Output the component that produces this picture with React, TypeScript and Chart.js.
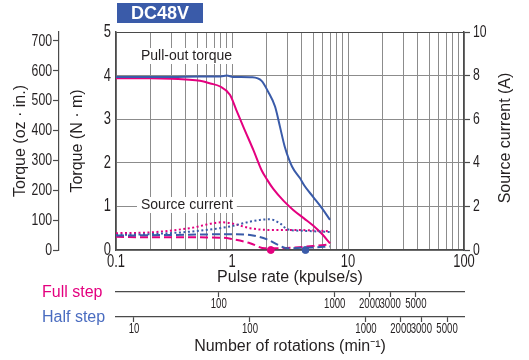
import React, { useEffect, useRef } from "react";
import { Chart, registerables } from "chart.js";

Chart.register(...registerables);

// ---- colours / fonts ----
const PINK = "#e4007f";
const BLUE = "#3a5ba9";
const HALF_LABEL = "#4a6cc0";
const GRID = "#8c8c8c";
const AXIS = "#4a4a4a";
const TEXT = "#231f20";
const TICK_FAMILY = "'Liberation Sans', Arial, sans-serif";
const TEXT_FAMILY = "Arial, 'Liberation Sans', sans-serif";
const TICK_SQUEEZE = 0.72;
const SMALL_TICK_SQUEEZE = 0.64;

// ---- axes ----
const pulseGrid = [0.1, 0.2, 0.3, 0.4, 0.5, 0.6, 0.7, 0.8, 0.9, 1, 2, 3, 4, 5, 6, 7, 8, 9, 10, 20, 30, 40, 50, 60, 70, 80, 90, 100];
const pulseLabels = [0.1, 1, 10, 100];
const torqueTicks = [0, 1, 2, 3, 4, 5];
const ozTicks = [0, 100, 200, 300, 400, 500, 600, 700];
const ozMax = 730;
const currentTicks = [0, 1, 2, 3, 4, 5, 6, 7, 8, 9, 10];
const fullRpmTicks = [100, 1000, 2000, 3000, 5000];
const halfRpmTicks = [10, 100, 1000, 2000, 3000, 5000];
const fullRpmPerKpps = 130;
const halfRpmPerKpps = 70;

// ---- pull-out torque (N·m) ----
const fullTorquePulse = [0.1, 0.2, 0.3, 0.4, 0.53, 0.65, 0.79, 0.96, 1.09, 1.25, 1.53, 1.8, 2.0, 2.27, 2.8, 3.37, 4.2, 5.0, 6.0, 7.0];
const fullTorque = [3.94, 3.94, 3.93, 3.91, 3.88, 3.82, 3.75, 3.56, 3.21, 2.83, 2.29, 1.83, 1.62, 1.4, 1.12, 0.92, 0.72, 0.56, 0.36, 0.15];
const halfTorquePulse = [0.1, 0.3, 0.53, 0.8, 0.9, 1.02, 1.5, 1.8, 2.05, 2.35, 2.59, 2.85, 3.3, 3.85, 4.2, 5.0, 6.0, 7.0];
const halfTorque = [3.97, 3.97, 3.98, 3.98, 4.0, 3.97, 3.96, 3.88, 3.63, 3.29, 2.83, 2.37, 1.91, 1.65, 1.48, 1.22, 0.95, 0.69];

// ---- source current (A) ----
const fullDotPulse = [0.1, 0.2, 0.43, 0.83, 1.0, 1.43, 2.1, 3.4, 5.0, 7.0];
const fullDotCurrent = [0.77, 0.81, 1.0, 1.27, 1.22, 1.0, 0.92, 0.92, 0.9, 0.86];
const halfDotPulse = [0.1, 0.2, 0.43, 0.83, 1.02, 1.43, 2.1, 2.6, 3.0, 4.0, 5.0, 7.0];
const halfDotCurrent = [0.69, 0.73, 0.84, 1.02, 1.11, 1.3, 1.41, 1.22, 0.95, 0.88, 0.86, 0.82];
const fullDashPulse = [0.1, 0.2, 0.5, 0.85, 1.0, 1.43, 1.92, 2.5, 3.5, 5.0, 7.0];
const fullDashCurrent = [0.61, 0.58, 0.58, 0.56, 0.5, 0.31, 0.08, 0.08, 0.12, 0.18, 0.26];
const halfDashPulse = [0.1, 0.3, 0.83, 1.1, 1.43, 2.0, 2.5, 2.96, 4.0, 5.0, 7.0];
const halfDashCurrent = [0.66, 0.69, 0.72, 0.72, 0.69, 0.49, 0.23, 0.08, 0.1, 0.12, 0.16];

// ---- starting-frequency markers ----
const markerPulse = [2.16, 4.3];
const markerTorque = [0, 0];
const markerColors = [PINK, BLUE];

const pts = (xs: number[], ys: number[]) => xs.map((x, i) => ({ x, y: ys[i] }));

const fmt = (v: number) => String(v);

const tickFont = (size: number, lineHeight?: number) => {
  const f: any = { family: TICK_FAMILY, size };
  if (lineHeight) f.lineHeight = lineHeight;
  return f;
};

// Narrows tick-label text (condensed look) using fillText's maxWidth.
const condensePlugin = {
  id: "condense",
  beforeDraw(chart: any) {
    const ctx = chart.ctx;
    if (ctx.__condensed) return;
    const orig = ctx.fillText.bind(ctx);
    ctx.fillText = (text: string, x: number, y: number, maxWidth?: number) => {
      const font = ctx.font as string;
      if (/px\s+"?Liberation Sans/.test(font)) {
        const m = font.match(/([\d.]+)px/);
        const size = m ? parseFloat(m[1]) : 16;
        const k = size <= 15 ? SMALL_TICK_SQUEEZE : TICK_SQUEEZE;
        const w = ctx.measureText(text).width * k;
        return orig(text, x, y, maxWidth !== undefined ? Math.min(maxWidth, w) : w);
      }
      return maxWidth === undefined ? orig(text, x, y) : orig(text, x, y, maxWidth);
    };
    ctx.__condensed = true;
  },
};

const overlayPlugin = {
  id: "overlay",
  beforeDatasetsDraw(chart: any) {
    const { ctx } = chart;
    const boxLabel = (text: string, x: number, y: number) => {
      ctx.save();
      ctx.font = `14px ${TEXT_FAMILY}`;
      const w = ctx.measureText(text).width;
      ctx.fillStyle = "#ffffff";
      ctx.fillRect(x - 4, y - 8, w + 8, 16);
      ctx.fillStyle = TEXT;
      ctx.textBaseline = "middle";
      ctx.textAlign = "left";
      ctx.fillText(text, x, y);
      ctx.restore();
    };
    boxLabel("Pull-out torque", 141, 56);
    boxLabel("Source current", 141, 205);
  },
  afterDraw(chart: any) {
    const { ctx, chartArea } = chart;
    ctx.save();
    // title box
    ctx.fillStyle = "#3a5ba9";
    ctx.fillRect(117, 3, 86, 20);
    ctx.fillStyle = "#ffffff";
    ctx.font = `bold 18px ${TEXT_FAMILY}`;
    ctx.textAlign = "center";
    ctx.textBaseline = "middle";
    ctx.fillText("DC48V", 160, 14);
    // right axis title
    ctx.fillStyle = TEXT;
    ctx.font = `16px ${TEXT_FAMILY}`;
    ctx.translate(506, (chartArea.top + chartArea.bottom) / 2 - 3);
    ctx.rotate(-Math.PI / 2);
    ctx.fillText("Source current (A)", 0, 0);
    ctx.restore();
    // step labels
    ctx.save();
    ctx.font = `16px ${TEXT_FAMILY}`;
    ctx.textAlign = "left";
    ctx.textBaseline = "middle";
    ctx.fillStyle = PINK;
    ctx.fillText("Full step", 42, 293);
    ctx.fillStyle = HALF_LABEL;
    ctx.fillText("Half step", 42, 318);
    ctx.restore();
  },
};

export default function App() {
  const ref = useRef<HTMLCanvasElement | null>(null);

  useEffect(() => {
    if (!ref.current) return;
    const line = (data: any, color: string, width: number, dash: number[], axis: string) => ({
      type: "line",
      data,
      borderColor: color,
      backgroundColor: color,
      borderWidth: width,
      borderDash: dash,
      pointRadius: 0,
      tension: 0.4,
      cubicInterpolationMode: "monotone",
      fill: false,
      yAxisID: axis,
    });

    const chart = new Chart(ref.current, {
      type: "line",
      data: {
        datasets: [
          line(pts(halfDotPulse, halfDotCurrent), BLUE, 2, [2, 2.5], "yA"),
          line(pts(fullDotPulse, fullDotCurrent), PINK, 2, [2, 2.5], "yA"),
          line(pts(halfDashPulse, halfDashCurrent), BLUE, 2, [8, 4], "yA"),
          line(pts(fullDashPulse, fullDashCurrent), PINK, 2, [8, 4], "yA"),
          line(pts(halfTorquePulse, halfTorque), BLUE, 2, [], "y"),
          line(pts(fullTorquePulse, fullTorque), PINK, 2, [], "y"),
          {
            type: "scatter",
            data: pts(markerPulse, markerTorque),
            pointRadius: 3.5,
            pointBackgroundColor: markerColors,
            pointBorderColor: markerColors,
            showLine: false,
            clip: false,
            yAxisID: "y",
          } as any,
        ],
      },
      plugins: [condensePlugin, overlayPlugin],
      options: {
        responsive: false,
        animation: false,
        events: [],
        layout: { padding: { top: 32, left: 0, right: 0, bottom: 0 } },
        plugins: { legend: { display: false }, tooltip: { enabled: false } },
        scales: {
          x: {
            type: "logarithmic",
            position: "bottom",
            min: 0.1,
            max: 100,
            weight: 0,
            afterBuildTicks: (s: any) => {
              s.ticks = pulseGrid.map((v) => ({ value: v }));
            },
            afterFit: (s: any) => {
              s.height = 42;
            },
            ticks: {
              autoSkip: false,
              maxRotation: 0,
              padding: 1,
              color: TEXT,
              font: tickFont(18),
              callback: (v: any) => (pulseLabels.includes(Number(v)) ? fmt(Number(v)) : ""),
            },
            grid: { color: GRID, lineWidth: 1, drawTicks: false },
            border: { color: AXIS, width: 1.5 },
            title: {
              display: true,
              text: "Pulse rate (kpulse/s)",
              color: TEXT,
              font: { family: TEXT_FAMILY, size: 16 },
              padding: { top: 0, bottom: 5 },
            },
          },
          xFull: {
            type: "logarithmic",
            position: "bottom",
            min: 0.1 * fullRpmPerKpps,
            max: 100 * fullRpmPerKpps,
            weight: 1,
            afterBuildTicks: (s: any) => {
              s.ticks = fullRpmTicks.map((v) => ({ value: v }));
            },
            afterFit: (s: any) => {
              s.height = 25;
            },
            ticks: {
              autoSkip: false,
              maxRotation: 0,
              padding: -1,
              color: TEXT,
              font: tickFont(15, 1),
              callback: (v: any) => fmt(Number(v)),
            },
            grid: { drawOnChartArea: false, drawTicks: true, tickLength: 5, tickColor: AXIS, tickWidth: 1.2 },
            border: { color: AXIS, width: 1.2 },
          },
          xHalf: {
            type: "logarithmic",
            position: "bottom",
            min: 0.1 * halfRpmPerKpps,
            max: 100 * halfRpmPerKpps,
            weight: 2,
            afterBuildTicks: (s: any) => {
              s.ticks = halfRpmTicks.map((v) => ({ value: v }));
            },
            afterFit: (s: any) => {
              s.height = 43;
            },
            ticks: {
              autoSkip: false,
              maxRotation: 0,
              padding: -1,
              color: TEXT,
              font: tickFont(15, 1),
              callback: (v: any) => fmt(Number(v)),
            },
            grid: { drawOnChartArea: false, drawTicks: true, tickLength: 5, tickColor: AXIS, tickWidth: 1.2 },
            border: { color: AXIS, width: 1.2 },
            title: {
              display: true,
              text: "Number of rotations (min⁻¹)",
              color: TEXT,
              font: { family: TEXT_FAMILY, size: 16 },
              padding: { top: 0, bottom: 4 },
            },
          },
          y: {
            type: "linear",
            position: "left",
            min: 0,
            max: 5,
            weight: 0,
            afterBuildTicks: (s: any) => {
              s.ticks = torqueTicks.map((v) => ({ value: v }));
            },
            afterFit: (s: any) => {
              s.width = 57;
            },
            ticks: {
              padding: 5,
              color: TEXT,
              font: tickFont(18),
              callback: (v: any) => fmt(Number(v)),
            },
            grid: {
              color: (c: any) => (c.tick && c.tick.value === 5 ? AXIS : GRID),
              lineWidth: 1,
              drawTicks: false,
            },
            border: { color: AXIS, width: 1.5 },
            title: {
              display: true,
              text: "Torque (N · m)",
              color: TEXT,
              font: { family: TEXT_FAMILY, size: 16 },
              padding: { top: 9, bottom: 0 },
            },
          },
          yOz: {
            type: "linear",
            position: "left",
            min: 0,
            max: ozMax,
            weight: 1,
            afterBuildTicks: (s: any) => {
              s.ticks = ozTicks.map((v) => ({ value: v }));
            },
            afterFit: (s: any) => {
              s.width = 59;
            },
            ticks: {
              padding: 1,
              color: TEXT,
              font: tickFont(17),
              callback: (v: any) => fmt(Number(v)),
            },
            grid: { drawOnChartArea: false, drawTicks: true, tickLength: 6, tickColor: AXIS, tickWidth: 1.2 },
            border: { color: AXIS, width: 1.2 },
            title: {
              display: true,
              text: "Torque (oz · in.)",
              color: TEXT,
              font: { family: TEXT_FAMILY, size: 16 },
              padding: { top: 11, bottom: 0 },
            },
          },
          yA: {
            type: "linear",
            position: "right",
            min: 0,
            max: 10,
            afterBuildTicks: (s: any) => {
              s.ticks = currentTicks.map((v) => ({ value: v }));
            },
            afterFit: (s: any) => {
              s.width = 65;
            },
            ticks: {
              padding: 3,
              color: TEXT,
              font: tickFont(17),
              callback: (v: any) => fmt(Number(v)),
            },
            grid: { drawOnChartArea: false, drawTicks: true, tickLength: 6, tickColor: AXIS, tickWidth: 1.2 },
            border: { color: AXIS, width: 1.5 },
          },
        },
      } as any,
    } as any);
    return () => chart.destroy();
  }, []);

  return (
    <div style={{ position: "fixed", left: 0, top: 0, width: 529, height: 360, background: "#fff" }}>
      <canvas ref={ref} width={529} height={360} style={{ display: "block" }} />
    </div>
  );
}
